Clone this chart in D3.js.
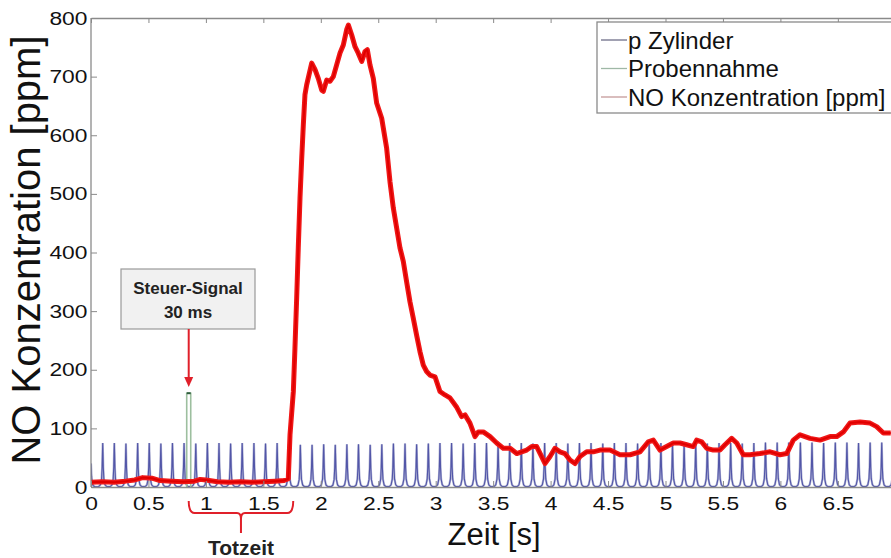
<!DOCTYPE html>
<html><head><meta charset="utf-8">
<script src="https://cdn.jsdelivr.net/npm/d3@7/dist/d3.min.js"></script>
<style>
html,body{margin:0;padding:0;background:#fff;}
svg{display:block;}
text{font-family:"Liberation Sans",Arial,sans-serif;}
</style></head>
<body><svg id="c" width="891" height="558"></svg>
<script>
// ---------- data ----------
const xTicks = [0,0.5,1,1.5,2,2.5,3,3.5,4,4.5,5,5.5,6,6.5];
const xTickLabels = ["0","0.5","1","1.5","2","2.5","3","3.5","4","4.5","5","5.5","6","6.5"];
const yTicks = [0,100,200,300,400,500,600,700,800];
const yTickLabels = ["0","100","200","300","400","500","600","700","800"];

const noTime = [
 0,0.1,0.2,0.3,0.38,0.45,0.53,0.6,0.7,0.8,
 0.9,0.95,1.0,1.1,1.2,1.3,1.4,1.5,1.6,1.68,
 1.717,1.732,1.761,1.775,1.79,1.804,1.819,1.834,1.848,1.862,
 1.877,1.921,1.95,1.978,2.008,2.022,2.051,2.08,2.109,2.138,
 2.167,2.196,2.225,2.24,2.269,2.298,2.326,2.356,2.385,2.405,
 2.428,2.457,2.486,2.53,2.573,2.602,2.631,2.66,2.689,2.718,
 2.747,2.776,2.805,2.834,2.863,2.892,2.921,2.95,2.994,3.037,
 3.081,3.124,3.18,3.226,3.255,3.298,3.342,3.371,3.414,3.473,
 3.531,3.588,3.647,3.705,3.748,3.792,3.836,3.879,3.922,3.951,
 3.995,4.038,4.082,4.125,4.169,4.212,4.256,4.314,4.372,4.43,
 4.517,4.604,4.691,4.778,4.85,4.894,4.952,5.01,5.068,5.126,
 5.184,5.242,5.271,5.315,5.359,5.416,5.474,5.518,5.576,5.62,
 5.677,5.735,5.822,5.91,5.997,6.055,6.112,6.171,6.258,6.345,
 6.432,6.49,6.548,6.606,6.693,6.78,6.838,6.896,6.96];
const noValue = [
 8,9,8,10,12,16,15,11,10,9,
 10,13,12,9,8,9,8,9,10,11,
 14,89,163,237,322,408,493,561,618,669,
 686,723,712,697,677,675,694,692,700,720,
 740,754,780,788,771,751,740,726,743,746,
 720,697,655,629,578,521,476,442,408,385,
 350,316,288,259,231,208,197,191,188,163,
 157,152,137,120,123,109,86,94,94,86,
 75,66,66,57,60,63,69,69,52,40,
 52,66,60,57,46,40,52,60,60,63,
 63,55,55,60,77,80,63,69,75,75,
 72,69,80,77,66,63,63,72,83,75,
 55,55,57,60,55,57,80,89,83,80,
 86,86,94,109,111,109,103,92,92];

// cylinder pressure peaks (time of peak, height in ppm-scale units)
const peakTime = [0.000,
 0.102,0.203,0.304,0.406,0.507,0.608,0.709,0.810,0.912,1.013,
 1.114,1.215,1.316,1.418,1.519,1.620,1.721,1.822,1.924,2.025,
 2.126,2.227,2.328,2.430,2.531,2.632,2.733,2.834,2.936,3.037,
 3.138,3.239,3.340,3.442,3.543,3.644,3.745,3.846,3.948,4.049,
 4.150,4.251,4.352,4.454,4.555,4.656,4.757,4.858,4.960,5.061,
 5.162,5.263,5.364,5.466,5.567,5.668,5.769,5.870,5.972,6.073,
 6.174,6.275,6.376,6.478,6.579,6.680,6.781,6.882,6.984];
const peakHeight = [40,
 75,75,74,75,75,74,75,75,74,75,
 75,74,75,75,74,75,73,72,72,73,
 72,73,73,72,73,74,74,73,74,75,
 75,74,75,75,74,75,75,74,75,75,
 74,75,75,74,75,75,74,75,75,74,
 75,75,74,75,75,74,75,76,76,76,
 76,76,75,76,76,75,76,76,75];

// sampling signal (Probennahme): 30 ms pulse
const sampleTime = [0.833, 0.833, 0.868, 0.868];
const sampleValue = [0, 160, 160, 0];

const legendLabels = ["p Zylinder","Probennahme","NO Konzentration [ppm]"];
const legendColors = ["#6e6f88","#9fb8a6","#c49a9a"];

// ---------- chart ----------
const svg = d3.select("#c");
const W = 891, H = 558;
const L = 91, T = 18, B = 487;
const pxPerSec = 114.9;
const x = d3.scaleLinear().domain([0,7]).range([L, L + 7*pxPerSec]);
const y = d3.scaleLinear().domain([0,800]).range([B, T]);

svg.append("rect").attr("width",W).attr("height",H).attr("fill","#fff");

svg.append("defs").append("clipPath").attr("id","clip")
  .append("rect").attr("x",L).attr("y",T).attr("width",W-L).attr("height",B-T+1);

const plot = svg.append("g").attr("clip-path","url(#clip)");

// pressure peaks as path built from peak list through scales
const shapeDt = [-0.035,-0.02,-0.01,-0.005,-0.002,0,0.002,0.005,0.01,0.02,0.035];
const shapeFr = [0.01,0.05,0.18,0.45,0.8,1,0.8,0.45,0.18,0.05,0.01];
const pPts = [];
peakTime.forEach((t,i)=>{
  shapeDt.forEach((dt,j)=>{
    pPts.push([t+dt, peakHeight[i]*shapeFr[j]]);
  });
});
const line = d3.line().x(d=>x(d[0])).y(d=>y(d[1]));
plot.append("path").datum(pPts)
  .attr("d",line).attr("fill","none")
  .attr("stroke","#b4b6d6").attr("stroke-width",2.2);
plot.append("path").datum(pPts)
  .attr("d",line).attr("fill","none")
  .attr("stroke","#5256a8").attr("stroke-width",1.1);

// sampling pulse
const sPts = sampleTime.map((t,i)=>[t,sampleValue[i]]);
plot.append("path").datum(sPts).attr("d",line).attr("fill","none")
  .attr("stroke","#9dbf9f").attr("stroke-width",1.6);
plot.append("line").attr("x1",x(sampleTime[1])).attr("x2",x(sampleTime[2]))
  .attr("y1",y(sampleValue[1])).attr("y2",y(sampleValue[1]))
  .attr("stroke","#2f5e3e").attr("stroke-width",2);

// NO concentration
const nPts = noTime.map((t,i)=>[t,noValue[i]]);
plot.append("path").datum(nPts).attr("d",line).attr("fill","none")
  .attr("stroke","#f01818").attr("stroke-width",5).attr("stroke-linejoin","round");
plot.append("path").datum(nPts).attr("d",line).attr("fill","none")
  .attr("stroke","#e00000").attr("stroke-width",2).attr("stroke-linejoin","round");

// axes
const axCol = "#8a8a8a";
const xAxis = svg.append("g").attr("transform",`translate(0,${B})`)
  .call(d3.axisBottom(x).tickValues(xTicks).tickFormat((d,i)=>xTickLabels[i])
        .tickSize(-6).tickSizeOuter(0).tickPadding(10));
const yAxis = svg.append("g").attr("transform",`translate(${L},0)`)
  .call(d3.axisLeft(y).tickValues(yTicks).tickFormat((d,i)=>yTickLabels[i])
        .tickSize(-6).tickSizeOuter(0).tickPadding(3));
[xAxis,yAxis].forEach(a=>{
  a.select(".domain").attr("stroke",axCol).attr("stroke-width",1.3);
  a.selectAll(".tick line").attr("stroke",axCol);
  a.selectAll(".tick text").attr("fill","#111").attr("font-size",19)
    .attr("font-family","Liberation Sans, Arial, sans-serif")
    .attr("transform","scale(1.2,1)");
});
yAxis.select(".domain").attr("d",`M0,${B}V${T}`);
// top border with inward ticks
const topAx = svg.append("g").attr("transform",`translate(0,${T})`)
  .call(d3.axisTop(x).tickValues(xTicks).tickFormat("").tickSize(-5).tickSizeOuter(0));
topAx.select(".domain").attr("stroke",axCol).attr("stroke-width",1.5);
topAx.selectAll(".tick line").attr("stroke",axCol);

// axis titles
svg.append("text").attr("transform",`translate(40,250) rotate(-90)`)
  .attr("text-anchor","middle").attr("font-size",40).attr("fill","#111")
  .text("NO Konzentration [ppm]");
svg.append("text").attr("x",494).attr("y",545)
  .attr("text-anchor","middle").attr("font-size",31).attr("fill","#111")
  .text("Zeit [s]");

// legend
const lg = svg.append("g");
lg.append("rect").attr("x",597).attr("y",22).attr("width",330).attr("height",91)
  .attr("fill","#fff").attr("stroke","#8a8a8a").attr("stroke-width",1.3);
legendLabels.forEach((lab,i)=>{
  const yy = 40 + i*28.5;
  lg.append("line").attr("x1",601).attr("x2",627).attr("y1",yy).attr("y2",yy)
    .attr("stroke",legendColors[i]).attr("stroke-width",1.3);
  lg.append("text").attr("x",628).attr("y",yy+8.5).attr("font-size",24).attr("fill","#111").text(lab);
});

// annotation box
const red = "#e0202a";
svg.append("rect").attr("x",121).attr("y",269).attr("width",134).attr("height",60)
  .attr("fill","#f1f1f1").attr("stroke","#9a9a9a").attr("stroke-width",1.2);
svg.append("text").attr("x",188).attr("y",294).attr("text-anchor","middle")
  .attr("font-family","Lato, sans-serif").attr("font-weight","bold").attr("font-size",17)
  .attr("fill","#222").text("Steuer-Signal");
svg.append("text").attr("x",188).attr("y",318).attr("text-anchor","middle")
  .attr("font-family","Lato, sans-serif").attr("font-weight","bold").attr("font-size",17)
  .attr("fill","#222").text("30 ms");
const ax = x(sampleTime[0]) + 2;
svg.append("line").attr("x1",ax).attr("x2",ax).attr("y1",329).attr("y2",378)
  .attr("stroke",red).attr("stroke-width",2);
svg.append("path").attr("d",`M${ax-4.5},377 L${ax+4.5},377 L${ax},387 Z`).attr("fill",red);

// Totzeit bracket
const bx0 = x(sampleTime[0]) + 2, bx1 = x(1.76), bm = (bx0+bx1)/2;
svg.append("path")
  .attr("d",`M${bx0},501 Q${bx0},513 ${bx0+6},513 L${bm-4},513 Q${bm},513 ${bm},519 L${bm},533 M${bm},519 Q${bm},513 ${bm+4},513 L${bx1-6},513 Q${bx1},513 ${bx1},501`)
  .attr("fill","none").attr("stroke",red).attr("stroke-width",2);
svg.append("text").attr("x",bm).attr("y",555).attr("text-anchor","middle")
  .attr("font-family","Lato, sans-serif").attr("font-weight","bold").attr("font-size",21)
  .attr("fill","#222").text("Totzeit");
</script></body></html>
